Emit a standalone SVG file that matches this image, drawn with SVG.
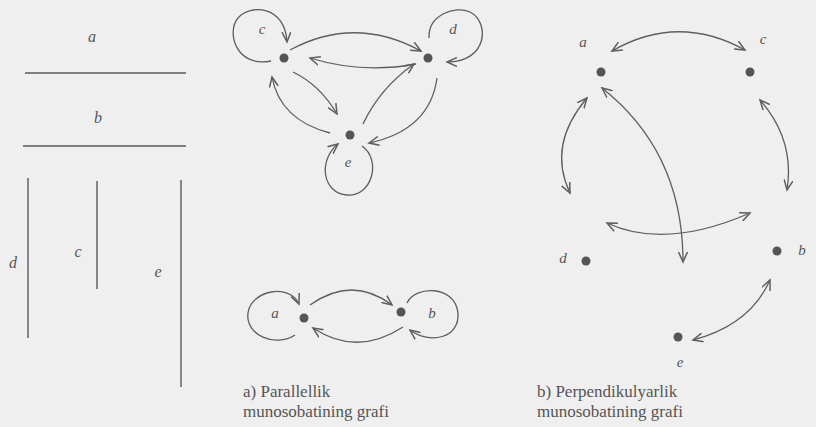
<svg xmlns="http://www.w3.org/2000/svg" width="816" height="427" viewBox="0 0 816 427">
<style>
.ln{stroke:#5a5a5a;stroke-width:1.4;fill:none}
.e{stroke:#5e5e5e;stroke-width:1.3;fill:none;marker-end:url(#ah)}
.e2{stroke:#5e5e5e;stroke-width:1.3;fill:none;marker-end:url(#ah);marker-start:url(#ah)}
.dot{fill:#555}
.lb{font-family:"Liberation Serif",serif;font-style:italic;font-size:16px;fill:#555}
.gl{font-family:"Liberation Serif",serif;font-style:italic;font-size:15px;fill:#555}
.cap{font-family:"Liberation Serif",serif;font-size:17px;fill:#555}
</style>
<defs>
<marker id="ah" markerUnits="userSpaceOnUse" markerWidth="12" markerHeight="10" refX="10" refY="5" orient="auto-start-reverse" viewBox="0 0 12 10">
<path d="M0,0.5 L10,5 L0,9.5" fill="none" stroke="#5e5e5e" stroke-width="1.5"/>
</marker>
</defs>
<rect width="816" height="427" fill="#efefef"/>

<g id="segments">
<line class="ln" x1="25" y1="73" x2="186" y2="73"/>
<line class="ln" x1="23" y1="146" x2="186" y2="146"/>
<line class="ln" x1="28" y1="178" x2="28" y2="338"/>
<line class="ln" x1="97" y1="181" x2="97" y2="289"/>
<line class="ln" x1="181" y1="180" x2="181" y2="387"/>
<text class="lb" x="92" y="42" text-anchor="middle">a</text>
<text class="lb" x="98" y="123" text-anchor="middle">b</text>
<text class="lb" x="13" y="268" text-anchor="middle">d</text>
<text class="lb" x="78" y="257" text-anchor="middle">c</text>
<text class="lb" x="158" y="277" text-anchor="middle">e</text>
</g>

<g id="connectors">
<path class="e" d="M271,61 C236,68 226,32 238,18 C250,4 285,5 287,42"/>
<path class="e" d="M429,38 C428,15 455,5 470,12 C490,22 488,62 447,62"/>
<path class="e" d="M362,146 C382,160 372,197 347,195 C322,193 318,160 338,144"/>
<path class="e" d="M290,50 Q355,15 421,51"/>
<path class="e" d="M416,64 Q362,74 310,58"/>
<path class="e" d="M293,72 Q320,85 337,114"/>
<path class="e" d="M330,133 Q280,120 272,77"/>
<path class="e" d="M363,124 Q380,88 414,64"/>
<path class="e" d="M437,78 Q430,130 369,143"/>
<path class="e" d="M295,335 C275,348 245,335 248,313 C251,290 290,283 299,304"/>
<path class="e" d="M407,303 C415,285 455,285 458,313 C460,338 430,345 410,330"/>
<path class="e" d="M310,305 Q352,275 392,305"/>
<path class="e" d="M403,327 Q357,357 313,328"/>
<path class="e2" d="M612,51 Q678,13 745,50"/>
<path class="e2" d="M587,98 Q547,145 570,193"/>
<path class="e2" d="M602,88 C640,118 683,170 683,262"/>
<path class="e2" d="M760,100 Q795,140 787,190"/>
<path class="e2" d="M607,223 Q665,250 750,213"/>
<path class="e2" d="M770,280 Q750,325 693,340"/>
</g>

<g id="node-c"><circle class="dot" cx="284" cy="58" r="4.5"/><text class="gl" x="262" y="34" text-anchor="middle">c</text></g>
<g id="node-d"><circle class="dot" cx="428" cy="58" r="4.5"/><text class="gl" x="453" y="34" text-anchor="middle">d</text></g>
<g id="node-e"><circle class="dot" cx="350" cy="135" r="4.5"/><text class="gl" x="348" y="167" text-anchor="middle">e</text></g>

<g id="node-pa"><circle class="dot" cx="304" cy="318" r="4.5"/><text class="gl" x="275" y="318" text-anchor="middle">a</text></g>
<g id="node-pb"><circle class="dot" cx="401" cy="312" r="4.5"/><text class="gl" x="432" y="318" text-anchor="middle">b</text></g>

<g id="node-qa"><circle class="dot" cx="601" cy="72" r="4.5"/><text class="gl" x="583" y="47" text-anchor="middle">a</text></g>
<g id="node-qc"><circle class="dot" cx="750" cy="72" r="4.5"/><text class="gl" x="763" y="44" text-anchor="middle">c</text></g>
<g id="node-qd"><circle class="dot" cx="586" cy="261" r="4.5"/><text class="gl" x="563" y="263" text-anchor="middle">d</text></g>
<g id="node-qb"><circle class="dot" cx="777" cy="251" r="4.5"/><text class="gl" x="802" y="255" text-anchor="middle">b</text></g>
<g id="node-qe"><circle class="dot" cx="678" cy="337" r="4.5"/><text class="gl" x="680" y="367" text-anchor="middle">e</text></g>

<g id="captions">
<text class="cap" x="243" y="397">a) Parallellik</text>
<text class="cap" x="243" y="417">munosobatining grafi</text>
<text class="cap" x="537" y="397">b) Perpendikulyarlik</text>
<text class="cap" x="537" y="417">munosobatining grafi</text>
</g>
</svg>
